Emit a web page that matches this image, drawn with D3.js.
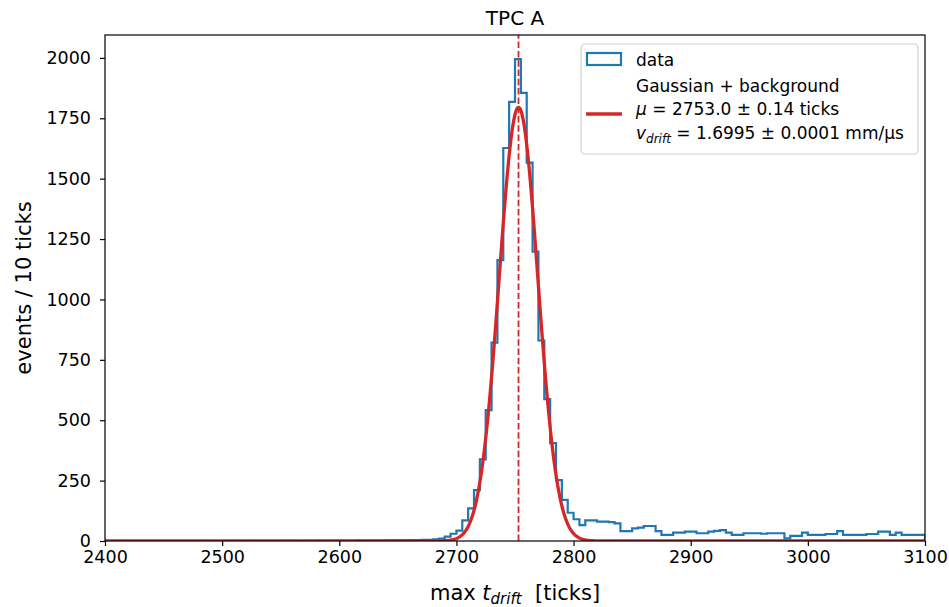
<!DOCTYPE html>
<html>
<head>
<meta charset="utf-8">
<script src="https://cdn.jsdelivr.net/npm/d3@7"></script>
<style>
  html, body { margin: 0; padding: 0; background: #fff; }
  svg text { font-family: "DejaVu Sans", sans-serif; fill: #000; }
</style>
</head>
<body>
<svg id="chart" width="949" height="607"></svg>
<script>
// ---------------- data ----------------
const binStart = 2400;      // first bin edge [ticks]
const binWidth = 5;         // bin width [ticks]
// histogram counts, one per bin from 2400 to 3100
const countsLeft = [
  0,0,0,0,0,0,0,0,0,0, 0,0,0,0,0,0,0,0,0,0, 0,0,0,0,0,0,0,0,0,0,
  0,1,0,0,1,0,1,0,1,1,
  1,1,1,2,1,2,2,2,3,3,
  3,3,4,4,5,5
];
const countsPeak = [
  7,10,18,30,43,85,135,211,338,542,821,1163,1627,1818,
  1995,1855,1566,1198,830,587,405,252,170,117,90,66,85,85
];
const countsTail = [
  80,80,78,73, 41,41,52,55, 62,62,41,25, 25,35,35,39,
  39,32,32,39, 42,45,35,25, 25,32,32,32, 30,32,32,32,
  11,21,21,35, 25,25,25,29, 29,41,25,25, 25,25,29,29,
  39,39,25,35, 25,25,25,25
];
const counts = countsLeft.concat(countsPeak, countsTail);

// fit result (Gaussian + background)
const fitAmp = 1795, fitMu = 2753.0, fitSigma = 16.5, fitBkg = 0;

const xTicks = [2400, 2500, 2600, 2700, 2800, 2900, 3000, 3100];
const yTicks = [0, 250, 500, 750, 1000, 1250, 1500, 1750, 2000];

// ---------------- layout ----------------
const M = { left: 105, right: 925, top: 35, bottom: 541 };
const svg = d3.select("#chart");
const blue = "#1f77b4", red = "#d62728";

const x = d3.scaleLinear().domain([2400, 3100]).range([M.left, M.right]);
const yMax = d3.max(counts) * 1.05;
const y = d3.scaleLinear().domain([0, yMax]).range([M.bottom, M.top]);

svg.append("defs").append("clipPath").attr("id", "clip")
  .append("rect").attr("x", M.left).attr("y", M.top)
  .attr("width", M.right - M.left).attr("height", M.bottom - M.top);

const plot = svg.append("g").attr("clip-path", "url(#clip)");

// histogram step outline
const stepPts = [[binStart, 0]];
counts.forEach((c, i) => {
  const e0 = binStart + i * binWidth, e1 = e0 + binWidth;
  stepPts.push([e0, c]); stepPts.push([e1, c]);
});
stepPts.push([binStart + counts.length * binWidth, 0]);
plot.append("path")
  .attr("d", d3.line().x(d => x(d[0])).y(d => y(d[1]))(stepPts))
  .attr("fill", "none").attr("stroke", blue).attr("stroke-width", 2.2)
  .attr("stroke-linejoin", "miter");

// fit curve
const fitX = d3.range(2400, 3100.5, 0.5);
const fitFn = t => fitBkg + fitAmp * Math.exp(-((t - fitMu) ** 2) / (2 * fitSigma ** 2));
plot.append("path")
  .attr("d", d3.line().x(t => x(t)).y(t => y(fitFn(t)))(fitX))
  .attr("fill", "none").attr("stroke", red).attr("stroke-width", 3.3)
  .attr("stroke-linejoin", "round");

// dashed mean line
plot.append("line")
  .attr("x1", x(fitMu)).attr("x2", x(fitMu))
  .attr("y1", M.bottom).attr("y2", M.top)
  .attr("stroke", red).attr("stroke-width", 1.8)
  .attr("stroke-dasharray", "6.5,2.8");

// axes
const xAxis = d3.axisBottom(x).tickValues(xTicks).tickFormat(d3.format("d"))
  .tickSize(5).tickPadding(5);
const yAxis = d3.axisLeft(y).tickValues(yTicks).tickFormat(d3.format("d"))
  .tickSize(5).tickPadding(9);

const gx = svg.append("g").attr("transform", `translate(0,${M.bottom})`).call(xAxis);
const gy = svg.append("g").attr("transform", `translate(${M.left},0)`).call(yAxis);
[gx, gy].forEach(g => {
  g.select(".domain").remove();
  g.selectAll(".tick line").attr("stroke", "#000").attr("stroke-width", 1.2);
  g.selectAll(".tick text").style("font-size", "17.5px").attr("fill", "#000")
    .style("font-family", "DejaVu Sans, sans-serif");
});

// frame
svg.append("rect").attr("x", M.left).attr("y", M.top)
  .attr("width", M.right - M.left).attr("height", M.bottom - M.top)
  .attr("fill", "none").attr("stroke", "#000").attr("stroke-width", 1.2);

// title
svg.append("text").attr("x", (M.left + M.right) / 2).attr("y", 25)
  .attr("text-anchor", "middle").style("font-size", "20px").text("TPC A");

// x label
const xl = svg.append("text").attr("x", (M.left + M.right) / 2).attr("y", 600)
  .attr("text-anchor", "middle").style("font-size", "21px");
xl.append("tspan").text("max ");
xl.append("tspan").style("font-style", "italic").text("t");
xl.append("tspan").style("font-style", "italic").style("font-size", "15px")
  .attr("dy", 4).text("drift");
xl.append("tspan").attr("dy", -4).text("\u00a0\u00a0[ticks]");

// y label
svg.append("text")
  .attr("transform", `translate(31,${(M.top + M.bottom) / 2}) rotate(-90)`)
  .attr("text-anchor", "middle").style("font-size", "21px")
  .text("events / 10 ticks");

// legend
const lg = svg.append("g");
lg.append("rect").attr("x", 581).attr("y", 44).attr("width", 337).attr("height", 110)
  .attr("rx", 4).attr("fill", "#fff").attr("fill-opacity", 0.8)
  .attr("stroke", "#d0d0d0").attr("stroke-width", 1.2);
lg.append("rect").attr("x", 587).attr("y", 53).attr("width", 34).attr("height", 12)
  .attr("fill", "none").attr("stroke", blue).attr("stroke-width", 2.2);
lg.append("text").attr("x", 636).attr("y", 66).style("font-size", "17px").text("data");
lg.append("line").attr("x1", 586).attr("x2", 622).attr("y1", 114).attr("y2", 114)
  .attr("stroke", red).attr("stroke-width", 3.3);
lg.append("text").attr("x", 636).attr("y", 92).style("font-size", "17px")
  .text("Gaussian + background");
const t2 = lg.append("text").attr("x", 636).attr("y", 115).style("font-size", "17px");
t2.append("tspan").style("font-style", "italic").text("\u03bc");
t2.append("tspan").text(" = 2753.0 \u00b1 0.14 ticks");
const t3 = lg.append("text").attr("x", 636).attr("y", 139).style("font-size", "17px");
t3.append("tspan").style("font-style", "italic").text("v");
t3.append("tspan").style("font-style", "italic").style("font-size", "12px")
  .attr("dy", 3.5).text("drift");
t3.append("tspan").attr("dy", -3.5).text(" = 1.6995 \u00b1 0.0001 mm/\u03bcs");
</script>
</body>
</html>
